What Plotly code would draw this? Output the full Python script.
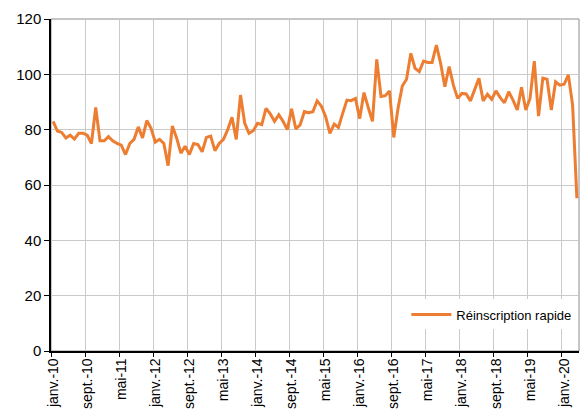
import plotly.graph_objects as go

mois = ["janv.", "févr.", "mars", "avr.", "mai", "juin", "juil.", "août", "sept.", "oct.", "nov.", "déc."]
annees = list(range(10, 21))
categories = [f"{m}-{a}" for a in annees for m in mois][:124]

series_name = "Réinscription rapide"
values = [
    83, 79.5, 79, 77, 78, 76.6, 78.7, 78.7, 78, 75, 88, 76,
    76, 77.5, 76, 75, 74.4, 71, 75, 76.5, 81, 77, 83.3, 80.5,
    75.5, 76.5, 75, 67, 81.3, 77, 71.5, 74, 71, 75, 74.6, 72,
    77.2, 77.7, 72.4, 75, 76.5, 80, 84.5, 76.5, 92.5, 82.3, 78.7, 79.6,
    82.3, 81.8, 87.7, 85.7, 83, 85.4, 83, 80, 87.5, 80.3, 81.7, 86.5,
    86.1, 86.5, 90.4, 88.5, 84.7, 78.7, 82, 80.8, 85.9, 90.7, 90.5, 91.3,
    84, 93.4, 88, 83, 105.4, 92, 92.3, 94, 77.2, 87.7, 95.8, 98.2,
    107.6, 102.2, 101, 104.8, 104.3, 104.3, 110.6, 104, 95.5, 102.8, 96.1, 91.3,
    93.1, 92.9, 90.4, 94.9, 98.6, 90.4, 92.8, 91, 94, 91.6, 89.7, 93.7,
    90.7, 87.1, 95.3, 87.1, 91.3, 104.8, 84.9, 98.6, 98.2, 87.1, 97.3, 96.1,
    96.4, 99.8, 88.9, 55.2,
]

y_ticks = [0, 20, 40, 60, 80, 100, 120]

fig = go.Figure()
fig.add_trace(go.Scatter(
    x=categories, y=values, mode="lines", name=series_name,
    line=dict(color="#ED7D31", width=3),
))

fig.add_shape(type="rect", xref="paper", yref="paper", x0=0, x1=1, y0=0, y1=1,
              line=dict(color="#8c8c8c", width=1), layer="below")

fig.update_layout(
    width=588, height=419,
    margin=dict(l=51, r=9, t=19, b=68),
    paper_bgcolor="white", plot_bgcolor="white",
    font=dict(family="Liberation Sans, Arial, sans-serif", size=14, color="black"),
    showlegend=True,
    legend=dict(x=0.995, y=0.11, xanchor="right", yanchor="middle",
                bgcolor="white", font=dict(size=13), borderwidth=0,
                itemwidth=40),
    xaxis=dict(
        type="category", range=[-0.5, 123.5], tickmode="linear", tick0=0, dtick=8,
        tickson="boundaries", tickangle=-90, ticks="outside", ticklen=4,
        tickcolor="black", showline=True, linecolor="black", linewidth=1.5,
        showgrid=True, gridcolor="#cacaca", gridwidth=1,
        tickfont=dict(size=14),
    ),
    yaxis=dict(
        range=[0, 120], tickvals=y_ticks, ticks="outside", ticklen=5,
        tickcolor="black", showline=True, linecolor="black", linewidth=1.5,
        showgrid=True, gridcolor="#cacaca", gridwidth=1, zeroline=False,
        tickfont=dict(size=15),
    ),
)

fig.write_html("out.html", config={"displayModeBar": False},
               post_script="document.body.style.margin='0';")
